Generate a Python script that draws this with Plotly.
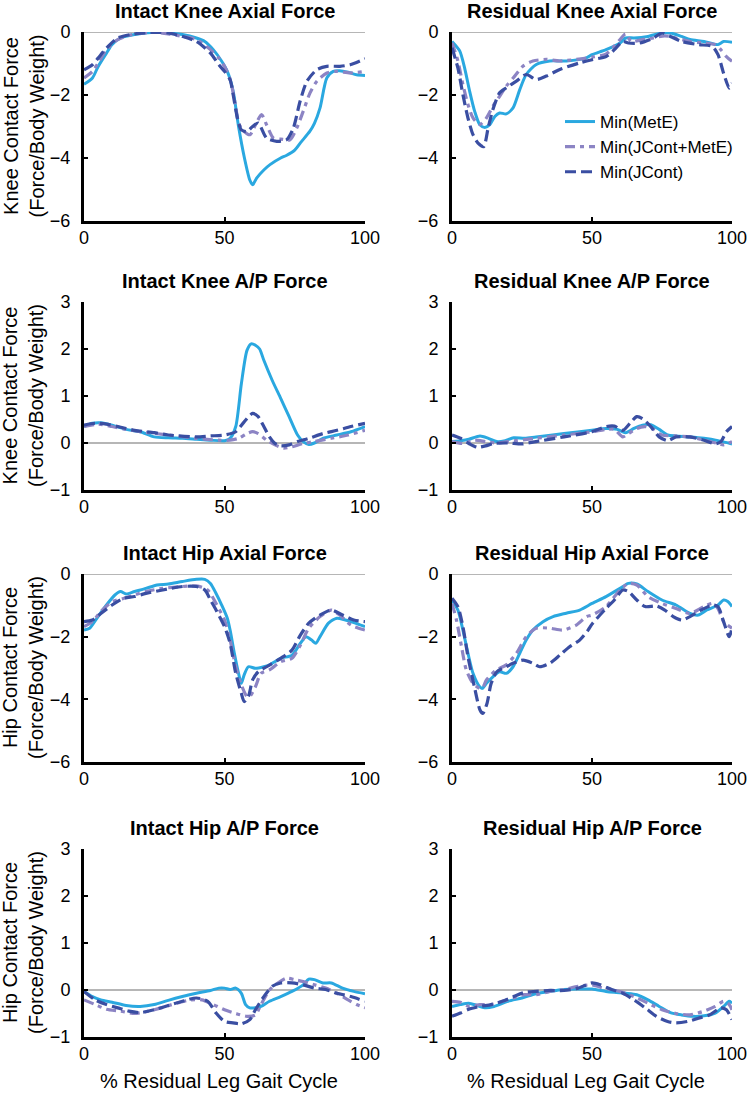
import plotly.graph_objects as go

# ---------------- DATA ----------------
series_names = ["Min(MetE)", "Min(JCont+MetE)", "Min(JCont)"]
panel_titles = ["Intact Knee Axial Force", "Residual Knee Axial Force",
                "Intact Knee A/P Force", "Residual Knee A/P Force",
                "Intact Hip Axial Force", "Residual Hip Axial Force",
                "Intact Hip A/P Force", "Residual Hip A/P Force"]
x_ticks = [0, 50, 100]
axial_ticks = [0, -2, -4, -6]
ap_ticks = [-1, 0, 1, 2, 3]
knee_ylabel = "Knee Contact Force<br>(Force/Body Weight)"
hip_ylabel = "Hip Contact Force<br>(Force/Body Weight)"
x_label = "% Residual Leg Gait Cycle"

# Panel 1: Intact Knee Axial
ika_mete_x = [0, 3, 5, 8, 10, 13, 18, 25, 30, 35, 40, 43, 46, 49, 51, 53, 55, 57, 59, 60, 61.5, 64, 66.2, 70, 72, 75, 77, 80.4, 82, 84, 86.4, 88.7, 91, 94, 97, 100]
ika_mete_y = [-1.66, -1.46, -1.1, -0.67, -0.4, -0.19, -0.08, -0.01, -0.03, -0.08, -0.19, -0.3, -0.56, -0.93, -1.25, -1.84, -3.0, -3.96, -4.7, -4.85, -4.63, -4.38, -4.21, -4.0, -3.92, -3.75, -3.52, -3.15, -2.9, -2.41, -1.46, -1.25, -1.23, -1.28, -1.36, -1.38]
ika_comb_x = [0, 3, 5, 8, 12, 18, 25, 30, 35, 40, 45, 48, 50, 52, 54, 55, 57, 59.1, 61, 63.2, 65, 67.4, 70, 73.3, 75.7, 78, 80.4, 82.8, 86.4, 89.9, 94.7, 100]
ika_comb_y = [-1.46, -1.25, -0.99, -0.56, -0.24, -0.06, -0.01, -0.06, -0.14, -0.24, -0.56, -0.83, -1.09, -1.5, -2.37, -2.9, -3.16, -3.26, -2.95, -2.62, -2.95, -3.37, -3.4, -3.42, -3.05, -2.52, -1.94, -1.57, -1.30, -1.25, -1.30, -1.25]
ika_jc_x = [0, 3, 5, 8, 12, 18, 25, 30, 35, 40, 45, 48, 50, 52, 53, 54.5, 56, 58, 60, 62, 65, 68.6, 72.1, 74.5, 76.9, 79.3, 82.8, 86.4, 91.1, 94.7, 100]
ika_jc_y = [-1.2, -1.04, -0.83, -0.51, -0.19, -0.06, -0.01, -0.03, -0.14, -0.3, -0.67, -1.04, -1.25, -1.52, -1.94, -2.69, -3.11, -3.16, -3.0, -2.89, -3.37, -3.47, -3.42, -3.05, -2.2, -1.57, -1.2, -1.09, -1.09, -1.04, -0.85]

# Panel 2: Residual Knee Axial
rka_mete_x = [0, 2.75, 4.5, 6.3, 8.1, 9.9, 11.7, 13.5, 15.3, 17, 19.4, 21.8, 24.2, 26.5, 30.1, 34.9, 40.9, 48, 50, 55, 60, 62, 65, 70, 75, 78, 82, 85, 90, 95, 97, 100]
rka_mete_y = [-0.3, -0.6, -1.14, -1.88, -2.52, -2.94, -3.03, -2.94, -2.68, -2.57, -2.6, -2.41, -1.83, -1.35, -1.03, -0.92, -0.92, -0.82, -0.72, -0.56, -0.35, -0.19, -0.19, -0.14, -0.03, -0.03, -0.14, -0.24, -0.3, -0.4, -0.3, -0.33]
rka_comb_x = [0, 2.1, 3.9, 5.7, 7.5, 9.9, 12.3, 14.6, 17, 19.4, 22.4, 25.4, 28.9, 33.7, 38.5, 50, 55, 60, 62, 64, 68, 72, 76, 80, 85, 90, 94, 96, 98, 100]
rka_comb_y = [-0.34, -0.92, -1.67, -2.3, -2.73, -2.94, -2.73, -2.36, -2.04, -1.72, -1.4, -1.08, -0.92, -0.87, -0.92, -0.8, -0.7, -0.24, -0.06, -0.3, -0.24, -0.19, -0.12, -0.19, -0.3, -0.35, -0.4, -0.56, -0.78, -0.93]
rka_jc_x = [0, 2.1, 3.9, 5.7, 7.5, 9.3, 11.3, 12.9, 14.6, 17, 19.4, 23, 26.5, 30.1, 33.7, 38.5, 45.6, 50, 55, 58, 61, 63, 67, 72, 75, 78, 82, 88, 93, 95, 97, 99, 100]
rka_jc_y = [-0.5, -1.14, -1.99, -2.73, -3.26, -3.53, -3.64, -3.05, -2.46, -1.93, -1.77, -1.56, -1.35, -1.51, -1.4, -1.19, -0.98, -0.88, -0.78, -0.56, -0.3, -0.35, -0.35, -0.19, -0.03, -0.14, -0.3, -0.4, -0.46, -0.72, -1.31, -1.78, -1.62]

# Panel 3: Intact Knee A/P
ikap_mete_x = [0, 3, 6, 10, 15, 20, 25, 30, 35, 40, 45, 50, 52, 54, 56, 58, 59.5, 61, 62.5, 64, 67, 70, 73, 76, 78, 80, 82, 85, 90, 95, 100]
ikap_mete_y = [0.35, 0.42, 0.43, 0.38, 0.29, 0.24, 0.13, 0.11, 0.1, 0.08, 0.06, 0.05, 0.1, 0.35, 1.26, 1.97, 2.11, 2.08, 2.0, 1.76, 1.33, 0.95, 0.56, 0.17, 0.03, -0.03, 0.0, 0.1, 0.17, 0.24, 0.35]
ikap_comb_x = [0, 5, 10, 15, 20, 30, 40, 48, 52, 55, 58, 60, 62, 65, 68, 71, 74, 78, 82, 88, 94, 100]
ikap_comb_y = [0.35, 0.4, 0.35, 0.29, 0.24, 0.17, 0.1, 0.06, 0.06, 0.1, 0.2, 0.24, 0.2, 0.06, -0.04, -0.11, -0.08, -0.01, 0.03, 0.1, 0.17, 0.27]
ikap_jc_x = [0, 4, 8, 12, 18, 25, 30, 40, 45, 50, 54, 57, 60, 62, 64, 66, 68, 70, 73, 76, 80, 85, 90, 95, 100]
ikap_jc_y = [0.38, 0.42, 0.4, 0.35, 0.27, 0.22, 0.17, 0.13, 0.15, 0.17, 0.24, 0.45, 0.63, 0.56, 0.35, 0.13, -0.01, -0.06, -0.04, 0.03, 0.1, 0.2, 0.27, 0.35, 0.42]

# Panel 4: Residual Knee A/P
rkap_mete_x = [0, 3, 6, 10, 13, 16, 19, 22, 26, 30, 40, 50, 55, 59, 62, 65, 68, 71, 74, 77, 80, 85, 90, 95, 100]
rkap_mete_y = [0.03, 0.05, 0.08, 0.15, 0.1, 0.03, 0.05, 0.11, 0.1, 0.13, 0.2, 0.27, 0.31, 0.29, 0.22, 0.31, 0.38, 0.39, 0.29, 0.17, 0.15, 0.13, 0.1, 0.05, -0.02]
rkap_comb_x = [0, 4, 8, 12, 16, 20, 30, 40, 50, 55, 58, 61, 63, 66, 69, 72, 75, 80, 85, 90, 95, 97, 100]
rkap_comb_y = [0.03, -0.01, 0.06, 0.03, 0.0, 0.03, 0.1, 0.17, 0.24, 0.29, 0.29, 0.13, 0.2, 0.31, 0.35, 0.29, 0.17, 0.15, 0.13, 0.06, -0.01, -0.04, 0.03]
rkap_jc_x = [0, 3, 6, 9, 12, 15, 20, 25, 30, 40, 50, 55, 58, 61, 64, 66, 68, 71, 74, 77, 80, 85, 90, 94, 96, 98, 100]
rkap_jc_y = [0.17, 0.1, -0.01, -0.09, -0.06, -0.01, 0.0, -0.02, 0.03, 0.13, 0.24, 0.35, 0.36, 0.27, 0.45, 0.56, 0.52, 0.35, 0.13, 0.05, 0.13, 0.13, 0.06, -0.02, 0.03, 0.24, 0.35]

# Panel 5: Intact Hip Axial
iha_mete_x = [0, 2, 5, 8, 11, 13, 15, 18, 22, 26, 30, 35, 40, 43, 45, 47, 49, 51, 52, 53.5, 55, 56, 57, 58.5, 61, 64, 66, 70, 74, 77, 79, 81, 82.5, 84, 87, 90, 93, 96, 100]
iha_mete_y = [-1.79, -1.73, -1.36, -0.99, -0.67, -0.56, -0.64, -0.56, -0.46, -0.35, -0.32, -0.24, -0.17, -0.17, -0.3, -0.62, -0.99, -1.41, -1.79, -2.53, -3.17, -3.49, -3.22, -2.96, -3.01, -2.96, -2.9, -2.69, -2.59, -2.21, -2.0, -2.11, -2.21, -2.0, -1.57, -1.41, -1.47, -1.55, -1.68]
iha_comb_x = [0, 3, 6, 10, 14, 18, 22, 28, 35, 40, 44, 47, 50, 52, 54, 56, 58, 59, 61, 63, 66, 70, 74, 77, 80, 84, 88, 91, 95, 100]
iha_comb_y = [-1.68, -1.52, -1.2, -0.88, -0.78, -0.67, -0.56, -0.46, -0.4, -0.38, -0.51, -0.94, -1.47, -2.11, -2.96, -3.54, -3.91, -3.91, -3.6, -3.17, -3.06, -2.8, -2.69, -2.27, -1.73, -1.36, -1.15, -1.31, -1.63, -1.79]
iha_jc_x = [0, 3, 6, 10, 14, 18, 22, 28, 35, 40, 43, 45, 47, 50, 52, 54, 56, 57, 58.5, 60, 62, 65, 70, 74, 77, 80, 84, 88, 92, 96, 100]
iha_jc_y = [-1.52, -1.47, -1.26, -0.99, -0.78, -0.72, -0.62, -0.51, -0.4, -0.4, -0.51, -0.83, -1.15, -1.68, -2.21, -3.17, -3.81, -4.07, -3.91, -3.38, -3.12, -2.96, -2.69, -2.43, -1.95, -1.57, -1.31, -1.15, -1.31, -1.47, -1.52]

# Panel 6: Residual Hip Axial
rha_mete_x = [0, 2.1, 3.9, 5.7, 7.5, 9.9, 10.8, 12.3, 14.6, 17, 19.4, 21.8, 24.2, 26.5, 28.9, 32.5, 36.1, 40.8, 45.6, 50, 55, 60, 63, 66, 70, 75, 80, 85, 88, 91, 95, 97, 98.5, 100]
rha_mete_y = [-0.83, -1.15, -1.79, -2.53, -3.17, -3.6, -3.65, -3.49, -3.28, -3.12, -3.17, -2.96, -2.53, -2.11, -1.79, -1.52, -1.36, -1.25, -1.15, -0.94, -0.72, -0.46, -0.3, -0.32, -0.56, -0.83, -0.99, -1.26, -1.31, -1.15, -0.99, -0.83, -0.88, -1.04]
rha_comb_x = [0, 1.6, 3.4, 5.1, 7.5, 9.9, 11, 12.3, 15.9, 19.4, 23, 26.5, 30.1, 34.9, 39.6, 44.4, 48, 50, 55, 60, 63, 66, 70, 75, 80, 85, 90, 93, 95, 97, 100]
rha_comb_y = [-0.94, -1.47, -2.32, -3.06, -3.49, -3.65, -3.62, -3.38, -3.06, -2.9, -2.53, -2.0, -1.73, -1.73, -1.79, -1.63, -1.36, -1.31, -1.04, -0.51, -0.3, -0.35, -0.72, -0.94, -1.1, -1.26, -1.04, -0.94, -1.1, -1.52, -1.73]
rha_jc_x = [0, 2.1, 3.9, 5.7, 8, 10, 11, 12.5, 14, 16, 19.4, 21.8, 25.4, 28.9, 31.3, 34.9, 38.5, 42, 45.6, 48.6, 50, 55, 58, 61, 63, 66, 69, 73, 76, 79, 82, 85, 89, 93, 95, 97, 99, 100]
rha_jc_y = [-0.77, -1.04, -1.68, -2.64, -3.6, -4.34, -4.45, -4.13, -3.49, -3.12, -2.96, -2.85, -2.75, -2.85, -2.96, -2.85, -2.59, -2.32, -2.11, -1.79, -1.6, -1.1, -0.83, -0.51, -0.56, -0.83, -1.04, -1.02, -1.15, -1.36, -1.47, -1.36, -1.15, -0.99, -1.04, -1.52, -2.0, -1.73]

# Panel 7: Intact Hip A/P
ihap_mete_x = [0, 3, 6, 10, 15, 20, 25, 30, 35, 40, 45, 48, 50, 52, 54, 56, 57.5, 59, 61, 63, 66, 70, 74, 78, 80, 82, 85, 88, 92, 96, 100]
ihap_mete_y = [-0.03, -0.14, -0.21, -0.26, -0.33, -0.35, -0.31, -0.22, -0.14, -0.07, -0.01, 0.04, 0.04, 0.01, 0.04, -0.07, -0.31, -0.38, -0.38, -0.35, -0.24, -0.14, -0.03, 0.11, 0.23, 0.22, 0.15, 0.15, 0.04, -0.03, -0.08]
ihap_comb_x = [0, 4, 8, 13, 18, 23, 28, 33, 38, 42, 46, 50, 54, 58, 61, 63, 66, 69, 72, 75, 78, 82, 86, 90, 94, 97, 100]
ihap_comb_y = [-0.21, -0.31, -0.41, -0.45, -0.5, -0.45, -0.37, -0.28, -0.21, -0.21, -0.31, -0.42, -0.5, -0.56, -0.53, -0.31, 0.0, 0.15, 0.25, 0.22, 0.18, 0.11, 0.04, -0.07, -0.21, -0.31, -0.38]
ihap_jc_x = [0, 4, 8, 12, 16, 20, 25, 30, 35, 40, 44, 47, 50, 53, 56, 59, 61, 64, 67, 70, 74, 78, 82, 86, 90, 95, 100]
ihap_jc_y = [-0.03, -0.21, -0.31, -0.38, -0.45, -0.48, -0.42, -0.33, -0.24, -0.17, -0.24, -0.49, -0.67, -0.7, -0.72, -0.63, -0.42, -0.14, 0.08, 0.15, 0.15, 0.11, 0.04, 0.01, -0.07, -0.14, -0.24]

# Panel 8: Residual Hip A/P
rhap_mete_x = [0, 3, 6, 9, 12, 15, 20, 25, 30, 35, 40, 45, 50, 55, 58, 62, 66, 70, 74, 78, 82, 86, 90, 94, 97, 99, 100]
rhap_mete_y = [-0.35, -0.31, -0.28, -0.33, -0.38, -0.35, -0.24, -0.17, -0.08, -0.03, 0.01, 0.02, 0.02, -0.03, -0.05, -0.07, -0.1, -0.21, -0.35, -0.48, -0.53, -0.56, -0.55, -0.49, -0.35, -0.24, -0.28]
rhap_comb_x = [0, 3, 6, 10, 14, 18, 22, 26, 30, 35, 40, 45, 50, 53, 57, 61, 65, 70, 75, 80, 85, 90, 94, 97, 99, 100]
rhap_comb_y = [-0.24, -0.26, -0.35, -0.31, -0.31, -0.24, -0.17, -0.1, -0.1, -0.03, 0.01, 0.08, 0.11, 0.06, 0.01, -0.05, -0.14, -0.28, -0.42, -0.5, -0.53, -0.45, -0.35, -0.24, -0.31, -0.42]
rhap_jc_x = [0, 3, 6, 10, 14, 18, 22, 26, 30, 35, 40, 45, 50, 53, 57, 61, 65, 69, 73, 77, 80, 84, 88, 92, 96, 98, 100]
rhap_jc_y = [-0.56, -0.49, -0.41, -0.35, -0.31, -0.24, -0.14, -0.05, -0.03, -0.01, -0.01, 0.04, 0.15, 0.11, 0.01, -0.07, -0.21, -0.38, -0.56, -0.67, -0.7, -0.67, -0.6, -0.53, -0.38, -0.42, -0.63]

panels = [
    [(ika_mete_x, ika_mete_y), (ika_comb_x, ika_comb_y), (ika_jc_x, ika_jc_y)],
    [(rka_mete_x, rka_mete_y), (rka_comb_x, rka_comb_y), (rka_jc_x, rka_jc_y)],
    [(ikap_mete_x, ikap_mete_y), (ikap_comb_x, ikap_comb_y), (ikap_jc_x, ikap_jc_y)],
    [(rkap_mete_x, rkap_mete_y), (rkap_comb_x, rkap_comb_y), (rkap_jc_x, rkap_jc_y)],
    [(iha_mete_x, iha_mete_y), (iha_comb_x, iha_comb_y), (iha_jc_x, iha_jc_y)],
    [(rha_mete_x, rha_mete_y), (rha_comb_x, rha_comb_y), (rha_jc_x, rha_jc_y)],
    [(ihap_mete_x, ihap_mete_y), (ihap_comb_x, ihap_comb_y), (ihap_jc_x, ihap_jc_y)],
    [(rhap_mete_x, rhap_mete_y), (rhap_comb_x, rhap_comb_y), (rhap_jc_x, rhap_jc_y)],
]

# ---------------- STYLE ----------------
W, H = 750, 1094
FONT = "Arial, 'Liberation Sans', Helvetica, sans-serif"
colors = ["#2AA8E0", "#8C84C4", "#3A4EA2"]
dashes = ["solid", "10px,5px,4px,5px", "11px,5px"]
widths = [3, 3.2, 3.2]

col_px = [(84, 365), (452, 732)]
row_px = [(32, 221), (302, 490), (574, 762), (849, 1037)]

fig = go.Figure()
layout = dict(
    width=W, height=H, autosize=False, paper_bgcolor="white", plot_bgcolor="white",
    margin=dict(l=0, r=0, t=0, b=0, pad=0, autoexpand=False),
    font=dict(family=FONT, color="black"),
    showlegend=True,
    legend=dict(x=560 / W, y=1 - 104 / H, xanchor="left", yanchor="top",
                font=dict(size=17, family=FONT, color="black"),
                bgcolor="rgba(0,0,0,0)", tracegroupgap=0),
)
annotations = []
shapes = []

for i, series in enumerate(panels):
    n = i + 1
    r, c = divmod(i, 2)
    xs = "" if n == 1 else str(n)
    x0p, x1p = col_px[c]
    y0p, y1p = row_px[r]
    axial = r in (0, 2)
    yr = [-6, 0] if axial else [-1, 3]
    yt = axial_ticks if axial else ap_ticks
    layout["xaxis" + xs] = dict(
        domain=[x0p / W, x1p / W], anchor="y" + xs, range=[0, 100],
        tickvals=x_ticks, ticks="inside", ticklen=4, tickwidth=2, tickcolor="black",
        showline=True, linewidth=3, linecolor="black", showgrid=False, zeroline=False,
        automargin=False,
        tickfont=dict(size=18, family=FONT, color="black"), ticklabelstandoff=-2,
    )
    layout["yaxis" + xs] = dict(
        domain=[1 - y1p / H, 1 - y0p / H], anchor="x" + xs, range=yr,
        tickvals=yt, ticks="inside", ticklen=4, tickwidth=2, tickcolor="black",
        showline=True, linewidth=3, linecolor="black", showgrid=False, zeroline=False,
        automargin=False,
        tickfont=dict(size=18, family=FONT, color="black"), ticklabelstandoff=7,
    )
    # zero reference line
    shapes.append(dict(type="line", xref=f"x{xs} domain", yref="y" + xs,
                       x0=0, x1=1, y0=0, y1=0, line=dict(color="#6e6e6e", width=1.2),
                       layer="below"))
    for k, (sx, sy) in enumerate(series):
        fig.add_trace(go.Scatter(
            x=sx, y=sy, mode="lines", name=series_names[k],
            xaxis="x" + xs, yaxis="y" + xs,
            line=dict(color=colors[k], width=widths[k], dash=dashes[k],
                      shape="spline", smoothing=0.7),
            showlegend=(n == 2), legendrank=k,
        ))
    annotations.append(dict(text=f"<b>{panel_titles[i]}</b>", xref=f"x{xs} domain",
                            yref=f"y{xs} domain", x=0.5, y=1, xanchor="center",
                            yanchor="bottom", yshift=8, showarrow=False,
                            font=dict(size=20, family=FONT, color="black")))
    if c == 0:
        annotations.append(dict(text=knee_ylabel if r < 2 else hip_ylabel,
                                xref="paper", yref=f"y{xs} domain", x=23 / W, y=0.5,
                                xanchor="center", yanchor="middle", textangle=-90,
                                showarrow=False,
                                font=dict(size=20, family=FONT, color="black")))
    if r == 3:
        annotations.append(dict(text=x_label, xref=f"x{xs} domain", yref="paper",
                                x=0.5, y=1 - 1081 / H, xanchor="center", yanchor="middle",
                                xshift=-6, showarrow=False,
                                font=dict(size=20, family=FONT, color="black")))

layout["annotations"] = annotations
layout["shapes"] = shapes
fig.update_layout(**layout)
fig.write_html("out.html", config={"displayModeBar": False},
               post_script="document.body.style.margin='0';document.body.style.overflow='hidden';")
